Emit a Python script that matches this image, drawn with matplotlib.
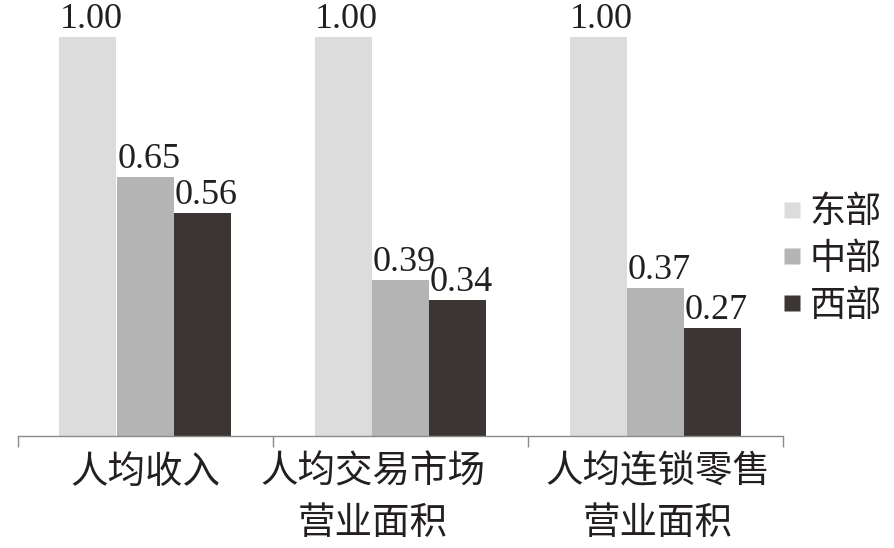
import matplotlib
matplotlib.use("Agg")
import matplotlib.pyplot as plt
import numpy as np
from matplotlib.lines import Line2D
from matplotlib.transforms import offset_copy

plt.rcParams['font.family'] = ['Liberation Serif', 'Noto Sans CJK SC', 'DejaVu Sans']

categories = ["人均收入", "人均交易市场\n营业面积", "人均连锁零售\n营业面积"]
series_names = ["东部", "中部", "西部"]
east = [1.00, 1.00, 1.00]
central = [0.65, 0.39, 0.37]
west = [0.56, 0.34, 0.27]
colors = ["#dcdcdc", "#b4b4b4", "#3b3634"]
text_color = "#231f20"
label_dx_px = [0, -27, 3]

fig = plt.figure(figsize=(8.94, 5.48), dpi=100)
ax = fig.add_axes([17.5 / 894, (548 - 436) / 548, (782.5 - 17.5) / 894, 436 / 548])

x = np.arange(len(categories))
w = 57 / 255
for i, (vals, c) in enumerate(zip([east, central, west], colors)):
    pos = x + (i - 1) * w
    ax.bar(pos, vals, width=w, color=c, edgecolor='none', zorder=2)
    for xp, v in zip(pos, vals):
        ax.annotate(f"{v:.2f}", (xp + 0.015, v), xytext=(0, 6.5),
                    textcoords='offset points', ha='center', va='baseline',
                    fontsize=26, color=text_color,
                    family=['Liberation Serif', 'DejaVu Serif'],
                    annotation_clip=False)

ax.set_xlim(-0.5, 2.5)
ax.set_ylim(0, 436 / 399)
for s in ['top', 'right', 'left']:
    ax.spines[s].set_visible(False)
ax.spines['bottom'].set_color('#8a8a8a')
ax.spines['bottom'].set_linewidth(1.0)
ax.set_yticks([])
ax.set_xticks([-0.5, 0.5, 1.5, 2.5])
ax.set_xticklabels([])
ax.tick_params(axis='x', direction='out', length=8, color='#8a8a8a', width=1.0)

for xi, lab, dx in zip(x, categories, label_dx_px):
    tr = offset_copy(ax.transData, fig=fig, x=dx * 72 / 100, y=0, units='points')
    ax.text(xi, -0.042, lab, ha='center', va='top', fontsize=27,
            color=text_color, linespacing=1.42,
            family=['Noto Sans CJK SC'], transform=tr, clip_on=False)

handles = [Line2D([0], [0], marker='s', linestyle='none', markersize=11,
                  markerfacecolor=c, markeredgecolor='none') for c in colors]
leg = fig.legend(handles, series_names, loc='center left',
                 bbox_to_anchor=(781 / 894, 1 - 259 / 548), frameon=False,
                 prop={'family': 'Noto Sans CJK SC', 'size': 26},
                 handlelength=0.6, handletextpad=0.2, labelspacing=0.3,
                 borderpad=0, borderaxespad=0)
for t in leg.get_texts():
    t.set_color(text_color)

fig.savefig("out.png", dpi=100)
